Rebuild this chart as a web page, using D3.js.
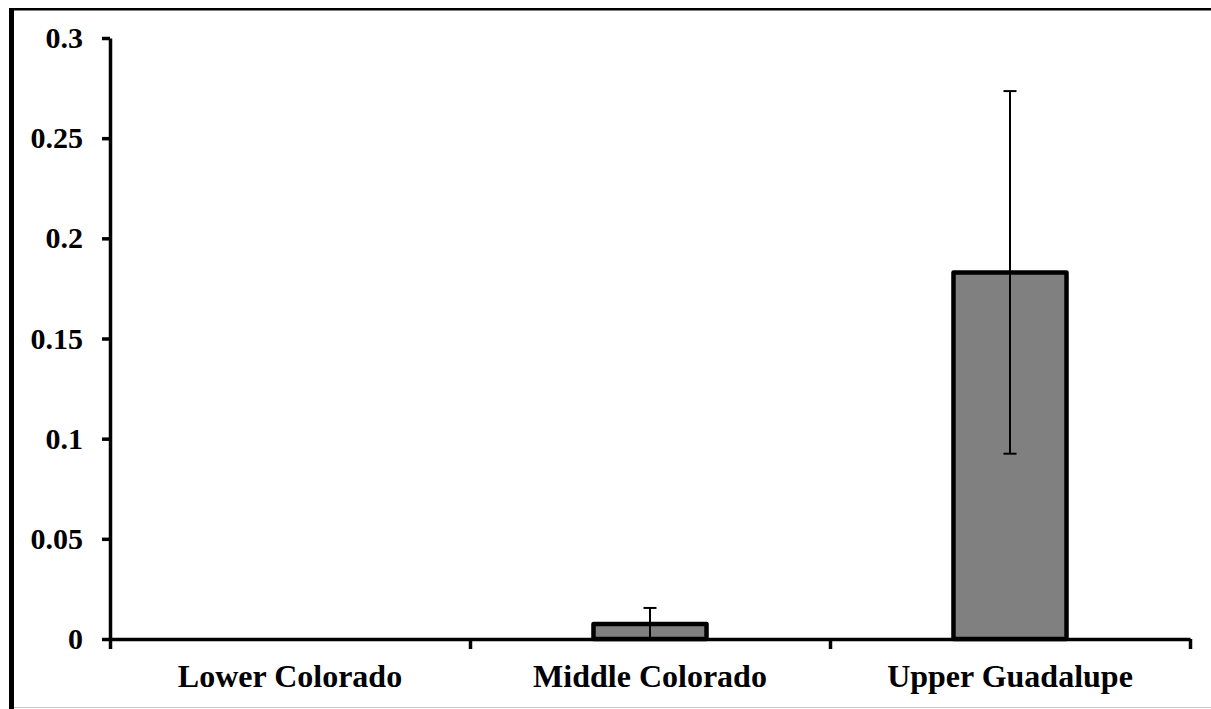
<!DOCTYPE html>
<html>
<head>
<meta charset="utf-8">
<script src="https://cdn.jsdelivr.net/npm/d3@7"></script>
<style>
  html, body { margin: 0; padding: 0; background: #fff; }
  svg { display: block; }
  text { font-family: "Liberation Serif", "Times New Roman", serif; font-weight: bold; fill: #000; }
</style>
</head>
<body>
<div id="viz"></div>
<script>
"use strict";

// data
var regions = ["Lower Colorado", "Middle Colorado", "Upper Guadalupe"];
var means = [0, 0.0075, 0.183];
var errors = [0, 0.008, 0.0905];
var yTicks = [0, 0.05, 0.1, 0.15, 0.2, 0.25, 0.3];

var svgWidth = 1211,
	svgHeight = 709,
	plotLeft = 110,
	plotRight = 1190,
	plotTop = 38,
	plotBottom = 639;

var svg = d3.select("#viz")
	.append("svg")
	.attr("width", svgWidth)
	.attr("height", svgHeight)

// frame round the picture
svg.append("rect")
	.attr("x", 9).attr("y", 8)
	.attr("width", svgWidth - 9).attr("height", 2.5)
	.attr("fill", "#000")
svg.append("rect")
	.attr("x", 9).attr("y", 8)
	.attr("width", 5).attr("height", svgHeight - 8)
	.attr("fill", "#000")
svg.append("line")
	.attr("x1", 14).attr("x2", svgWidth)
	.attr("y1", 707.5).attr("y2", 707.5)
	.attr("stroke", "#c8c8c8")
	.attr("stroke-width", 1)

var y = d3.scaleLinear()
	.domain([0, 0.3])
	.range([plotBottom, plotTop])

var x = d3.scaleBand()
	.domain(regions)
	.range([plotLeft, plotRight])
	.paddingInner(0.686)
	.paddingOuter(0.343)

// boundaries between categories, for the x ticks
var xEdge = d3.scaleLinear()
	.domain([0, regions.length])
	.range([plotLeft, plotRight])

var yAxis = svg.append("g")
	.attr("transform", "translate(" + plotLeft + ",0)")
	.call(d3.axisLeft(y)
		.tickValues(yTicks)
		.tickFormat(function(d){ return String(+d.toFixed(2)) })
		.tickSize(8)
		.tickSizeOuter(0)
		.tickPadding(19))

yAxis.select(".domain").attr("stroke-width", 3.5)
yAxis.selectAll(".tick line").attr("stroke-width", 3.5)
yAxis.selectAll(".tick text")
	.attr("font-size", "30px")
	.attr("font-family", "Liberation Serif")
	.attr("font-weight", "bold")

var xAxis = svg.append("g")
	.attr("transform", "translate(0," + plotBottom + ")")
	.call(d3.axisBottom(xEdge)
		.tickValues(d3.range(regions.length + 1))
		.tickFormat("")
		.tickSize(10)
		.tickSizeOuter(0))

xAxis.select(".domain").attr("stroke-width", 3.5)
xAxis.selectAll(".tick line").attr("stroke-width", 3.5)

// category labels sit under the band centres
svg.append("g").selectAll("text")
	.data(regions)
	.enter()
	.append("text")
	.attr("x", function(d){ return x(d) + x.bandwidth() / 2 })
	.attr("y", 687)
	.attr("text-anchor", "middle")
	.attr("font-size", "32px")
	.text(function(d){ return d })

var rows = regions.map(function(r, i){
	return { region: r, mean: means[i], err: errors[i] }
}).filter(function(d){ return d.mean > 0 })

svg.append("g").selectAll("rect")
	.data(rows)
	.enter()
	.append("rect")
	.attr("x", function(d){ return x(d.region) })
	.attr("y", function(d){ return y(d.mean) })
	.attr("width", x.bandwidth())
	.attr("height", function(d){ return y(0) - y(d.mean) })
	.attr("fill", "#808080")
	.attr("stroke", "#000")
	.attr("stroke-width", 4.5)
	.attr("stroke-linejoin", "round")

var errGroup = svg.append("g")
	.attr("stroke", "#000")
	.attr("stroke-width", 2)

var cx = function(d){ return x(d.region) + x.bandwidth() / 2 }

errGroup.selectAll("line.stem")
	.data(rows)
	.enter()
	.append("line")
	.attr("class", "stem")
	.attr("x1", cx).attr("x2", cx)
	.attr("y1", function(d){ return y(d.mean - d.err) })
	.attr("y2", function(d){ return y(d.mean + d.err) })

errGroup.selectAll("line.cap-hi")
	.data(rows)
	.enter()
	.append("line")
	.attr("class", "cap-hi")
	.attr("x1", function(d){ return cx(d) - 6.5 })
	.attr("x2", function(d){ return cx(d) + 6.5 })
	.attr("y1", function(d){ return y(d.mean + d.err) })
	.attr("y2", function(d){ return y(d.mean + d.err) })

// the low cap is only drawn when it stays above the axis
errGroup.selectAll("line.cap-lo")
	.data(rows.filter(function(d){ return d.mean - d.err > 0.001 }))
	.enter()
	.append("line")
	.attr("class", "cap-lo")
	.attr("x1", function(d){ return cx(d) - 6.5 })
	.attr("x2", function(d){ return cx(d) + 6.5 })
	.attr("y1", function(d){ return y(d.mean - d.err) })
	.attr("y2", function(d){ return y(d.mean - d.err) })
</script>
</body>
</html>
